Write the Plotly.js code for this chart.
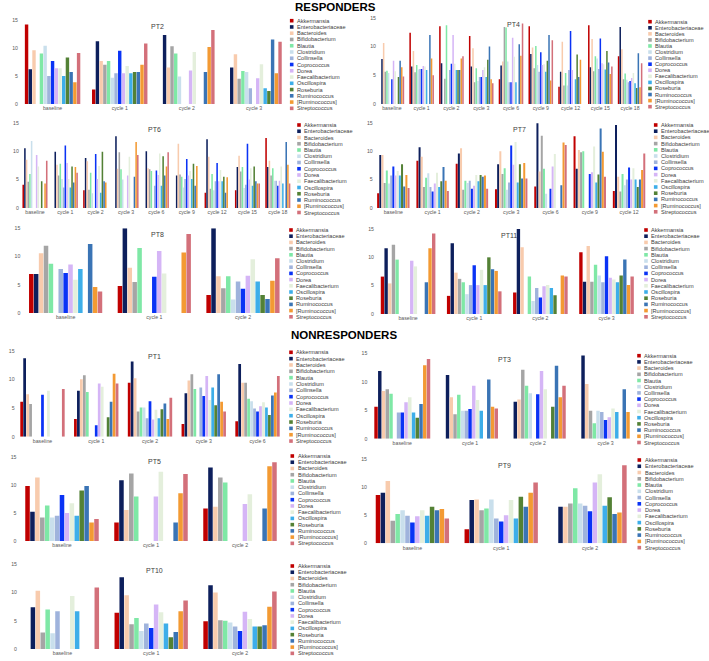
<!DOCTYPE html>
<html><head><meta charset="utf-8">
<script src="https://cdn.plot.ly/plotly-3.0.1.min.js"></script>
<style>html,body{margin:0;padding:0;background:#fff}#chart{width:709px;height:661px}</style>
</head><body><div id="chart"></div>
<script>
const taxa = ['Akkermansia','Enterobacteriaceae','Bacteroides','Bifidobacterium','Blautia','Clostridium','Collinsella','Coprococcus','Dorea','Faecalibacterium','Oscillospira','Roseburia','Ruminococcus','[Ruminococcus]','Streptococcus'];

const pt2Times = ['baseline','cycle 1','cycle 2','cycle 3'];
const pt2Values = [
  [14.2, 6.2, 9.6, 0, 9.0, 10.4, 5.0, 7.7, 6.4, 6.4, 5.0, 8.3, 5.7, 3.9, 9.1],
  [2.6, 11.2, 7.7, 7.0, 7.7, 4.7, 5.5, 9.5, 5.5, 6.8, 5.5, 5.7, 5.7, 7.0, 10.8],
  [0, 12.3, 6.5, 10.3, 9.0, 4.9, 0, 0, 6.0, 9.3, 0, 0, 5.7, 10.2, 13.2],
  [0, 6.5, 8.9, 4.5, 5.9, 5.7, 2.8, 0, 4.6, 7.1, 2.8, 2.3, 11.5, 5.5, 11.1]
];

const pt4Times = ['baseline','cycle 1','cycle 2','cycle 3','cycle 6','cycle 9','cycle 12','cycle 15','cycle 18'];
const pt4Values = [
  [0, 7.8, 10.6, 5.6, 5.8, 5.4, 0, 4.3, 7.5, 5.7, 0, 4.7, 7.5, 6.4, 4.8],
  [12.4, 6.5, 9.2, 5.5, 6.8, 6.0, 6.1, 6.1, 6.6, 6.5, 5.9, 0, 12.0, 7.9, 5.0],
  [13.5, 7.1, 0, 4.4, 13.7, 0, 5.9, 7.0, 12.0, 7.0, 5.9, 5.9, 5.9, 7.9, 8.3],
  [11.8, 6.5, 9.7, 3.8, 6.2, 4.0, 4.7, 4.7, 5.9, 6.4, 4.7, 7.7, 10.0, 4.3, 3.6],
  [4.3, 6.7, 7.4, 13.4, 13.3, 7.4, 3.8, 3.8, 11.5, 8.2, 3.8, 0, 10.4, 8.4, 14.0],
  [13.5, 8.7, 9.8, 6.2, 10.1, 6.8, 5.6, 9.0, 6.8, 6.9, 5.6, 7.5, 12.0, 4.1, 11.1],
  [3.0, 5.6, 10.8, 3.2, 5.4, 3.2, 5.9, 12.7, 5.9, 0, 4.3, 8.6, 4.7, 7.7, 0],
  [13.7, 6.4, 11.3, 5.7, 8.3, 7.9, 6.1, 11.4, 7.1, 6.9, 6.0, 9.2, 7.2, 5.2, 6.5],
  [8.3, 13.4, 9.5, 4.3, 5.3, 4.2, 3.8, 4.0, 4.5, 5.4, 3.6, 2.8, 8.8, 2.9, 7.1]
];

const pt6Times = ['baseline','cycle 1','cycle 2','cycle 3','cycle 6','cycle 9','cycle 12','cycle 15','cycle 18'];
const pt6Values = [
  [4.1, 10.5, 8.5, 4.6, 6.0, 11.8, 0, 0, 9.3, 7.3, 0, 4.7, 0, 4.3, 8.3],
  [0, 9.9, 7.6, 5.7, 7.8, 5.1, 3.6, 11.0, 7.9, 5.1, 3.6, 7.3, 4.5, 7.2, 6.2],
  [3.1, 8.8, 8.2, 3.2, 6.2, 2.6, 0, 9.5, 5.1, 7.4, 2.7, 9.9, 4.7, 4.5, 0],
  [0, 12.6, 6.9, 9.8, 6.8, 5.0, 0, 0, 5.7, 9.0, 0, 0, 5.5, 11.6, 9.3],
  [0, 10.0, 7.0, 6.8, 6.5, 0, 3.9, 6.6, 5.8, 9.6, 3.9, 9.1, 5.7, 7.3, 9.8],
  [0, 5.7, 11.3, 5.9, 5.5, 3.6, 5.1, 8.6, 5.7, 6.5, 5.1, 7.8, 3.9, 7.4, 0],
  [2.7, 12.1, 9.0, 3.4, 6.0, 3.1, 4.7, 7.9, 4.7, 6.7, 4.7, 5.5, 2.7, 5.4, 0],
  [3.1, 7.2, 9.2, 6.4, 7.2, 3.5, 4.1, 11.3, 5.0, 7.0, 3.9, 7.3, 4.7, 4.3, 4.3],
  [12.3, 7.2, 8.3, 5.7, 7.0, 4.8, 4.8, 3.9, 4.8, 7.3, 4.3, 0, 11.6, 7.6, 4.3]
];

const pt7Times = ['baseline','cycle 1','cycle 2','cycle 3','cycle 6','cycle 9','cycle 12'];
const pt7Values = [
  [2.6, 9.3, 9.3, 4.4, 6.6, 4.3, 5.7, 7.3, 5.7, 6.5, 5.7, 7.7, 3.8, 5.8, 3.5],
  [8.3, 10.7, 9.0, 3.7, 5.3, 6.1, 3.7, 2.9, 4.3, 6.2, 3.7, 4.7, 7.2, 4.8, 3.0],
  [7.8, 9.6, 10.5, 3.2, 4.8, 4.4, 4.8, 3.4, 3.9, 5.8, 4.7, 5.8, 5.5, 5.7, 3.4],
  [3.3, 7.7, 10.0, 6.0, 7.0, 3.2, 4.5, 11.0, 7.6, 11.6, 4.5, 7.7, 5.2, 7.9, 5.2],
  [3.8, 14.9, 6.4, 12.7, 6.9, 2.5, 0, 3.4, 7.3, 9.5, 0, 0, 4.0, 11.5, 11.1],
  [12.6, 6.9, 10.2, 9.8, 10.0, 0, 0, 6.0, 6.3, 10.8, 4.5, 5.9, 14.0, 9.9, 5.5],
  [3.0, 14.6, 5.5, 2.9, 6.0, 4.0, 5.0, 7.1, 5.0, 7.0, 5.0, 3.7, 5.0, 6.7, 9.6]
];

const pt8Times = ['baseline','cycle 1','cycle 2'];
const pt8Values = [
  [6.9, 6.9, 10.6, 11.9, 8.7, 0, 7.8, 7.1, 8.6, 5.9, 7.8, 0, 12.2, 4.6, 3.8],
  [4.8, 15.0, 8.0, 5.5, 11.5, 0, 0, 6.4, 11.0, 7.0, 0, 0, 0, 10.7, 14.0],
  [3.2, 15.0, 6.5, 4.4, 6.5, 2.4, 5.6, 4.3, 6.6, 9.5, 5.6, 3.2, 2.5, 5.7, 9.7]
];

const pt11Times = ['baseline','cycle 1','cycle 2','cycle 3'];
const pt11Values = [
  [6.6, 11.6, 5.4, 12.2, 9.6, 0, 0, 0, 9.4, 8.4, 0, 0, 5.6, 11.6, 14.2],
  [3.2, 12.5, 7.3, 6.2, 5.6, 3.5, 5.1, 8.6, 5.1, 7.8, 5.1, 10.0, 7.9, 7.6, 4.0],
  [3.8, 15.0, 11.8, 0, 6.6, 2.3, 4.6, 2.9, 4.9, 5.1, 4.6, 3.3, 0, 6.8, 6.6],
  [10.9, 5.7, 12.0, 5.7, 8.7, 6.8, 5.6, 10.2, 6.4, 6.1, 5.6, 6.8, 9.6, 5.1, 6.6]
];

const pt1Times = ['baseline','cycle 1','cycle 2','cycle 3','cycle 6'];
const pt1Values = [
  [6.1, 13.7, 7.4, 5.7, 0, 0, 0, 7.3, 0, 8.0, 0, 0, 0, 0, 8.3],
  [3.1, 8.0, 10.0, 10.7, 7.8, 0, 0, 2.0, 9.3, 8.7, 0, 3.4, 6.1, 11.0, 9.3],
  [9.4, 13.1, 10.2, 4.4, 5.1, 5.1, 3.2, 6.2, 3.0, 4.7, 3.2, 4.8, 5.8, 3.1, 6.8],
  [2.2, 7.6, 9.8, 10.9, 8.3, 0, 8.6, 7.1, 10.6, 6.4, 8.6, 5.5, 10.9, 6.1, 4.4],
  [2.7, 12.7, 9.4, 9.4, 6.6, 6.2, 4.9, 4.4, 5.3, 6.0, 5.1, 3.8, 7.2, 7.7, 10.6]
];

const pt3Times = ['baseline','cycle 1','cycle 2','cycle 3'];
const pt3Values = [
  [5.6, 11.9, 8.4, 8.7, 7.9, 0, 4.6, 4.6, 6.4, 7.3, 4.6, 3.7, 6.1, 12.9, 14.0],
  [0, 11.2, 7.3, 4.3, 7.7, 4.9, 4.9, 5.2, 9.3, 6.8, 4.9, 0, 10.4, 5.6, 5.3],
  [0, 6.5, 6.9, 12.1, 9.3, 8.0, 0, 7.8, 11.9, 8.7, 0, 5.6, 12.8, 7.3, 9.3],
  [0, 14.6, 9.6, 4.9, 2.7, 4.9, 4.7, 3.3, 3.75, 5.3, 4.7, 0, 8.7, 4.7, 0]
];

const pt5Times = ['baseline','cycle 1','cycle 2'];
const pt5Values = [
  [9.8, 5.2, 11.3, 4.2, 6.3, 4.2, 4.5, 8.2, 5.0, 6.7, 4.5, 9.0, 9.8, 3.3, 3.9],
  [3.3, 10.8, 5.5, 12.0, 7.9, 0, 0, 0, 7.9, 12.3, 0, 0, 3.3, 8.5, 11.9],
  [5.8, 13.1, 6.1, 11.3, 10.4, 0, 0, 0, 6.6, 8.3, 0, 0, 5.8, 13.3, 14.0]
];

const pt9Times = ['baseline','cycle 1','cycle 2'];
const pt9Values = [
  [8.6, 9.0, 11.1, 4.0, 5.2, 5.9, 4.9, 3.7, 4.8, 5.9, 4.9, 6.5, 5.9, 6.1, 4.4],
  [2.5, 7.7, 7.8, 5.9, 6.2, 7.8, 4.4, 3.9, 5.0, 7.7, 4.4, 8.3, 6.5, 9.0, 10.8],
  [0, 6.5, 6.5, 7.1, 9.8, 7.1, 6.7, 5.7, 10.8, 12.3, 6.7, 8.2, 5.2, 5.5, 13.9]
];

const pt10Times = ['baseline','cycle 1','cycle 2'];
const pt10Values = [
  [0, 7.4, 10.3, 2.9, 7.0, 2.8, 6.7, 0, 0, 9.4, 6.7, 0, 0, 0, 10.9],
  [6.4, 12.7, 9.5, 4.4, 5.5, 3.2, 4.5, 3.7, 7.9, 6.5, 4.5, 2.1, 3.0, 6.7, 8.6],
  [4.9, 11.3, 10.0, 5.1, 5.0, 4.7, 4.0, 3.2, 6.6, 5.3, 4.0, 4.0, 4.2, 7.5, 10.2]
];

const sectionTitles = ['RESPONDERS', 'NONRESPONDERS'];

// ---- styling / layout (not data) ----
const colors = ['#C00000','#0D1F5C','#F8CBAD','#A5A5A5','#7FE8A6','#C9DFEC','#9FB3DC','#0A33F5','#D5B5F6','#E4EFDC','#3DAEE9','#538135','#3A74B5','#F39A33','#D3707A'];
const W = 709, H = 661;
const FONT = 'Liberation Sans, Arial, sans-serif';
const panels = [
  {name:'PT2',  times:pt2Times,  values:pt2Values,  box:[19,287.6,20,104],     title:[157,26],  leg:[291.7,20.7,6.26]},
  {name:'PT4',  times:pt4Times,  values:pt4Values,  box:[377,645,17.7,104],    title:[513,24],  leg:[650,21.7,6.07]},
  {name:'PT6',  times:pt6Times,  values:pt6Values,  box:[19.8,293,122.7,208],  title:[154,129], leg:[299,125,6.25]},
  {name:'PT7',  times:pt7Times,  values:pt7Values,  box:[373.7,648.7,122.7,208], title:[519,129], leg:[655.7,125,6.2]},
  {name:'PT8',  times:pt8Times,  values:pt8Values,  box:[21.3,287.3,228.3,313], title:[157,235], leg:[291,230,6.2]},
  {name:'PT11', times:pt11Times, values:pt11Values, box:[375,639.6,229,314],   title:[509,236], leg:[646,230,6.2]},
  {name:'PT1',  times:pt1Times,  values:pt1Values,  box:[15.6,284.4,350.7,436.7], title:[154,356], leg:[291,352.3,6.34]},
  {name:'PT3',  times:pt3Times,  values:pt3Values,  box:[368.4,639.4,353.3,438.7], title:[504,359], leg:[639,355.7,6.2]},
  {name:'PT5',  times:pt5Times,  values:pt5Values,  box:[17.5,284.5,456.7,541], title:[154,461], leg:[292.3,456,6.24]},
  {name:'PT9',  times:pt9Times,  values:pt9Values,  box:[368,634.4,459,543.3], title:[504,465], leg:[639.3,460,6.26]},
  {name:'PT10', times:pt10Times, values:pt10Values, box:[18,284.4,564.3,649],  title:[154,570], leg:[292.3,566,6.24]}
];
const px = x => x / W;
const py = y => 1 - y / H;

const traces = [];
const layout = {
  width: W, height: H,
  margin: {l:0, r:0, t:0, b:0},
  paper_bgcolor: '#fff', plot_bgcolor: 'rgba(0,0,0,0)',
  barmode: 'group', bargap: 0.17, bargroupgap: 0.08,
  showlegend: false,
  font: {family: FONT, color: '#595959'},
  annotations: [], shapes: []
};

panels.forEach((p, k) => {
  const n = k + 1;
  const xa = 'x' + (n === 1 ? '' : n), ya = 'y' + (n === 1 ? '' : n);
  const xk = 'xaxis' + (n === 1 ? '' : n), yk = 'yaxis' + (n === 1 ? '' : n);
  taxa.forEach((t, i) => {
    traces.push({
      type: 'bar', name: t, x: p.times, y: p.values.map(r => r[i]),
      xaxis: xa, yaxis: ya, marker: {color: colors[i], line: {width: 0}},
      hoverinfo: 'x+y+name'
    });
  });
  const [x0, x1, yt, yb] = p.box;
  layout[xk] = {
    domain: [px(x0), px(x1)], anchor: ya, type: 'category',
    showgrid: false, zeroline: false, showline: false, ticks: '',
    tickfont: {size: 5.2, color: '#595959', family: FONT}, fixedrange: true
  };
  layout[yk] = {
    domain: [py(yb), py(yt)], anchor: xa, range: [0, 15],
    tickvals: [0, 5, 10, 15], showgrid: false, zeroline: false, showline: false, ticks: '',
    tickfont: {size: 5.2, color: '#595959', family: FONT}, fixedrange: true
  };
  layout.annotations.push({
    text: p.name, xref: 'paper', yref: 'paper', x: px(p.title[0]), y: py(p.title[1]),
    xanchor: 'center', yanchor: 'middle', showarrow: false,
    font: {size: 7, color: '#404040', family: FONT}
  });
  const [lx, ly, dy] = p.leg;
  taxa.forEach((t, i) => {
    const cy = ly + i * dy;
    layout.shapes.push({
      type: 'rect', xref: 'paper', yref: 'paper',
      x0: px(lx - 1.8), x1: px(lx + 1.8), y0: py(cy + 1.8), y1: py(cy - 1.8),
      fillcolor: colors[i], line: {width: 0}
    });
    layout.annotations.push({
      text: t, xref: 'paper', yref: 'paper', x: px(lx + 3.2), y: py(cy),
      xanchor: 'left', yanchor: 'middle', showarrow: false,
      font: {size: 5.6, color: '#404040', family: FONT}
    });
  });
});

layout.annotations.push({
  text: sectionTitles[0], xref: 'paper', yref: 'paper', x: px(293), y: py(7),
  xanchor: 'left', yanchor: 'middle', showarrow: false,
  font: {size: 11.5, color: '#000', family: FONT, weight: 'bold'}
});
layout.annotations.push({
  text: sectionTitles[1], xref: 'paper', yref: 'paper', x: px(289), y: py(335),
  xanchor: 'left', yanchor: 'middle', showarrow: false,
  font: {size: 11.5, color: '#000', family: FONT, weight: 'bold'}
});

Plotly.newPlot('chart', traces, layout, {displayModeBar: false, staticPlot: true});
</script>
</body></html>
